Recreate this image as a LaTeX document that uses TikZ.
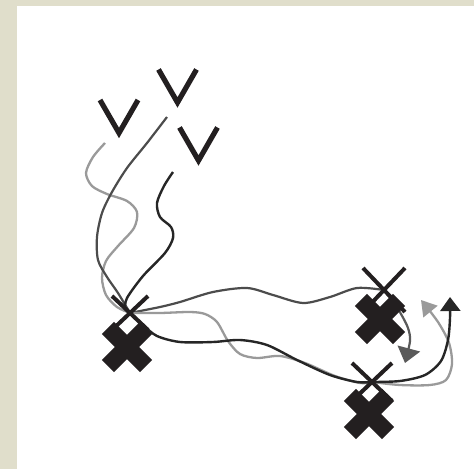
\documentclass[tikz,border=0pt]{standalone}
\usetikzlibrary{arrows.meta}
\definecolor{beige}{HTML}{E0DECB}
\definecolor{ink}{HTML}{231F20}
\definecolor{lightrun}{HTML}{9A9A9A}
\definecolor{midrun}{HTML}{4C4C4C}
\definecolor{darkrun}{HTML}{262626}
\definecolor{arrowgray}{HTML}{5A5A5A}
\begin{document}
\begin{tikzpicture}[x=1pt,y=-1pt,
  vmark/.style={draw=ink, line width=5.2pt, miter limit=10},
  xmark/.style={draw=ink, line width=4pt},
  crossmark/.style={fill=ink},
  runlight/.style={draw=lightrun, line width=2.3pt, line join=round},
  runmid/.style={draw=midrun, line width=2.2pt, line join=round},
  rundark/.style={draw=darkrun, line width=2.4pt, line join=round}]
\useasboundingbox (0,0) rectangle (474,469);
\fill[beige] (0,0) rectangle (474,469);
\fill[white] (17,6) rectangle (474,469);

% positions
\coordinate (v1) at (119,116.5);
\coordinate (v2) at (177.5,86);
\coordinate (v3) at (198.5,144);
\coordinate (v1s) at (105,143);
\coordinate (v2s) at (167,117);
\coordinate (v3s) at (173,172);
\coordinate (x1) at (130,313);
\coordinate (x2) at (384,290);
\coordinate (x3) at (372,382);
\coordinate (c1) at (127,347);
\coordinate (c2) at (380,319);
\coordinate (c3) at (369,414);
\coordinate (tipmid) at (405,363);
\coordinate (tiplight) at (421,300);
\coordinate (tipdark) at (450,297);

% runs from the V's to the first X
\draw[runlight] plot[smooth] coordinates {(v1s) (93,157) (86,173) (92,186) (107,194) (127,201) (137,212) (134,228) (118,246) (106,261) (102,278) (106,295) (117,307) (x1)};
\draw[runmid] plot[smooth] coordinates {(v2s) (147,143) (127,168) (112,192) (102,213) (97,237) (98,260) (107,277) (118,293) (x1)};
\draw[rundark] plot[smooth] coordinates {(v3s) (164,186) (157,203) (160,217) (171,227) (173,238) (165,253) (143,276) (127,298) (125,309)};

% runs from the first X
\draw[runmid] plot[smooth] coordinates {(x1) (160,307) (180,302) (213,292) (247,288) (273,295) (303,303) (330,297) (357,288) (x2)};
\draw[runlight] plot[smooth] coordinates {(x1) (160,313) (190,312) (205,314) (217,322) (228,341) (240,354) (257,358) (280,356) (305,363) (335,376) (360,383) (x3)};
\draw[rundark] plot[smooth] coordinates {(x1) (143,325) (157,336) (180,342) (213,342) (240,340) (267,345) (297,360) (330,375) (357,382) (x3)};

% final arrows
\draw[runmid, draw=arrowgray, -{Triangle[length=15pt,width=23pt]}] plot[smooth] coordinates {(x2) (392,300) (401,314) (408,328) (410,341) (tipmid)};
\draw[runlight, -{Triangle[length=15pt,width=18pt]}] plot[smooth] coordinates {(x3) (400,385) (430,385) (446,380) (452,364) (449,343) (438,322) (tiplight)};
\draw[rundark, -{Triangle[length=14pt,width=20pt]}] plot[smooth] coordinates {(x3) (400,381) (425,375) (441,361) (448,340) (450,318) (tipdark)};

% V marks
\draw[vmark, shift={(v1)}] (-19,-16.5) -- (0,16.5) -- (19,-16.5);
\draw[vmark, shift={(v2)}] (-19,-16.5) -- (0,16.5) -- (19,-16.5);
\draw[vmark, shift={(v3)}] (-19,-16.5) -- (0,16.5) -- (19,-16.5);

% thin X marks
\draw[xmark, shift={(x1)}] (-18,-17) -- (18,17) (18,-17) -- (-18,17);
\draw[xmark, shift={(x2)}] (-21,-22) -- (21,22) (21,-22) -- (-21,22);
\draw[xmark, shift={(x3)}] (-20,-19) -- (20,19) (20,-19) -- (-20,19);

% heavy crosses
\foreach \c in {c1,c2,c3}{
  \fill[crossmark, shift={(\c)}, rotate=45]
    (8.5,8.5) -- (27,8.5) -- (27,-8.5) -- (8.5,-8.5) -- (8.5,-27) -- (-8.5,-27) --
    (-8.5,-8.5) -- (-27,-8.5) -- (-27,8.5) -- (-8.5,8.5) -- (-8.5,27) -- (8.5,27) -- cycle;
}
\end{tikzpicture}
\end{document}
